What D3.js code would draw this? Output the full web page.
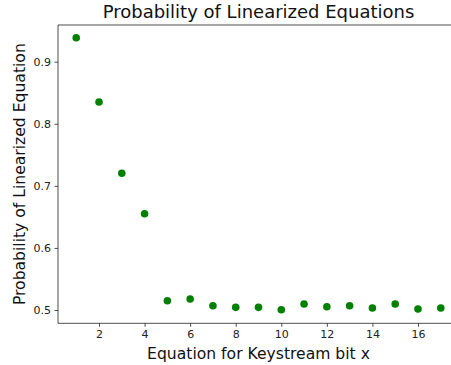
<!DOCTYPE html>
<html><head><meta charset="utf-8">
<script src="https://cdn.jsdelivr.net/npm/d3@7"></script>
<style>body{margin:0;background:#fff}svg{display:block}text{font-family:"DejaVu Sans",sans-serif}</style>
</head><body>
<svg id="chart" width="451" height="365"></svg>
<script>
const xValues = [1,2,3,4,5,6,7,8,9,10,11,12,13,14,15,16,17];
const probabilities = [0.9386,0.835,0.7202,0.6551,0.515,0.5177,0.5069,0.5043,0.5043,0.5005,0.5097,0.5053,0.5069,0.5032,0.5097,0.5016,0.5032];
const xTicks = [2,4,6,8,10,12,14,16];
const yTicks = [0.5,0.6,0.7,0.8,0.9];
const title = "Probability of Linearized Equations";
const xLabel = "Equation for Keystream bit x";
const yLabel = "Probability of Linearized Equation";

const svg = d3.select("#chart");
const L = 58, R = 459, T = 25, B = 323.3;
const x = d3.scaleLinear().domain([0.2, 17.8]).range([L, R]);
const y = d3.scaleLinear().domain([0.4786, 0.9591]).range([B, T]);

const xAxis = svg.append("g").attr("transform", `translate(0,${B})`)
  .call(d3.axisBottom(x).tickValues(xTicks).tickSize(3.5).tickPadding(3.5).tickFormat(d3.format("d")));
const yAxis = svg.append("g").attr("transform", `translate(${L},0)`)
  .call(d3.axisLeft(y).tickValues(yTicks).tickSize(3.5).tickPadding(3.5).tickFormat(d3.format(".1f")));
[xAxis, yAxis].forEach(a => {
  a.select(".domain").remove();
  a.selectAll("line").attr("stroke", "#222").attr("stroke-width", 0.8);
  a.selectAll("text").attr("fill", "#222").style("font-size", "11px").style("font-family", "DejaVu Sans");
});
// spines
svg.append("line").attr("x1", L).attr("x2", L).attr("y1", T).attr("y2", B).attr("stroke", "#222").attr("stroke-width", 0.8);
svg.append("line").attr("x1", L).attr("x2", R).attr("y1", B).attr("y2", B).attr("stroke", "#222").attr("stroke-width", 0.8);
svg.append("line").attr("x1", L).attr("x2", R).attr("y1", T).attr("y2", T).attr("stroke", "#222").attr("stroke-width", 0.8);
svg.append("line").attr("x1", R).attr("x2", R).attr("y1", T).attr("y2", B).attr("stroke", "#222").attr("stroke-width", 0.8);

svg.append("g").selectAll("circle").data(xValues).join("circle")
  .attr("cx", (d) => x(d)).attr("cy", (d, i) => y(probabilities[i])).attr("r", 3.8).attr("fill", "#008000");

svg.append("text").attr("x", (L + R) / 2).attr("y", 18).attr("text-anchor", "middle")
  .style("font-size", "18px").attr("fill", "#111").text(title);
svg.append("text").attr("x", (L + R) / 2).attr("y", 359).attr("text-anchor", "middle")
  .style("font-size", "15.6px").attr("fill", "#111").text(xLabel);
svg.append("text").attr("transform", `translate(25,${(T + B) / 2}) rotate(-90)`).attr("text-anchor", "middle")
  .style("font-size", "15.6px").attr("fill", "#111").text(yLabel);
</script>
</body></html>
